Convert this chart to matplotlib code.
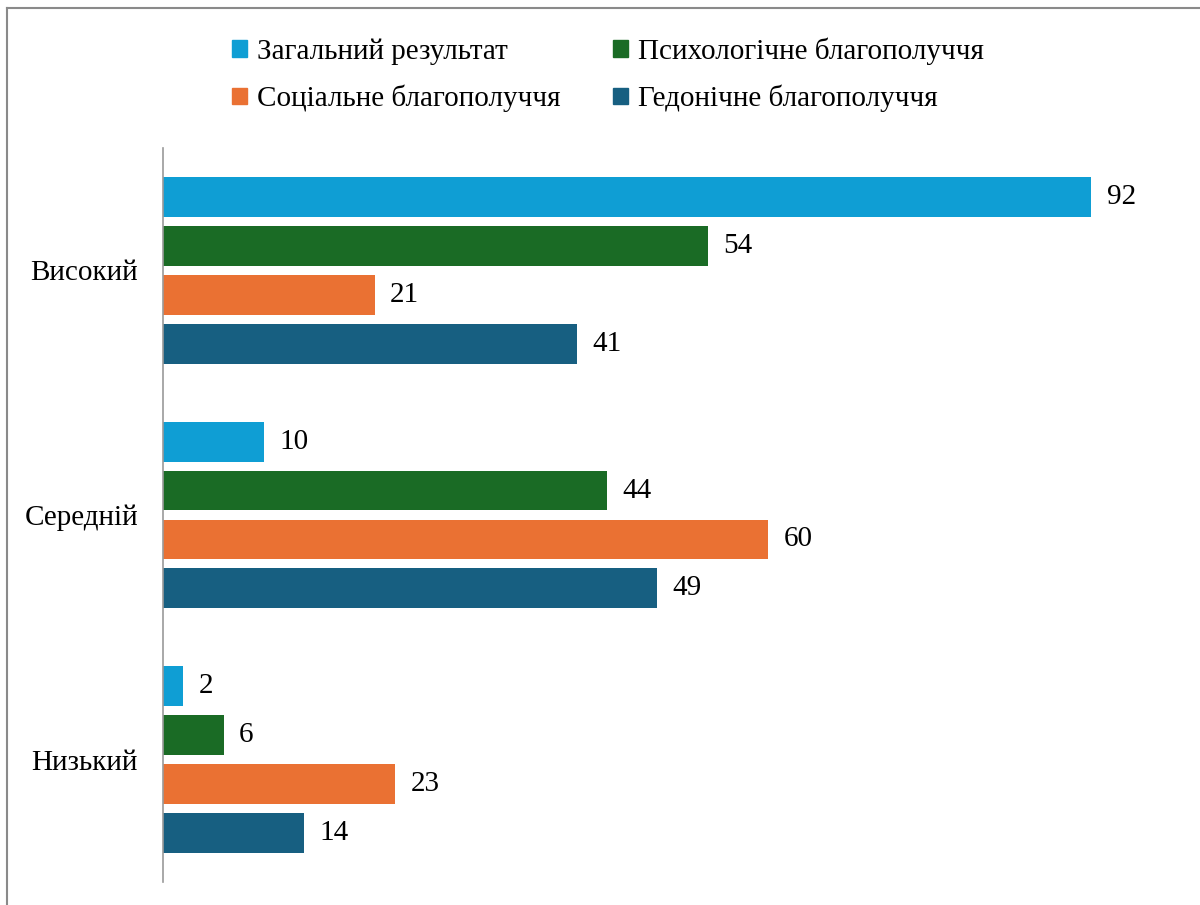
import matplotlib
matplotlib.use("Agg")
import matplotlib.pyplot as plt
from matplotlib.patches import Patch
from matplotlib.lines import Line2D
import numpy as np

categories = ["Високий", "Середній", "Низький"]
series_names = ["Загальний результат", "Психологічне благополуччя",
                "Соціальне благополуччя", "Гедонічне благополуччя"]
zagalnyi = [92, 10, 2]
psykholohichne = [54, 44, 6]
sotsialne = [21, 60, 23]
hedonichne = [41, 49, 14]
colors = ["#0F9ED4", "#1A6B25", "#EA7133", "#175F81"]

plt.rcParams['font.family'] = ['Liberation Serif', 'DejaVu Serif']

fig = plt.figure(figsize=(12, 9.05), dpi=100)
ax = fig.add_axes([163/1200, 1-882/905, (1172-163)/1200, (882-148)/905])

series = [zagalnyi, psykholohichne, sotsialne, hedonichne]
offsets = [-0.3, -0.1, 0.1, 0.3]
y = np.arange(len(categories))
for vals, off, c, name in zip(series, offsets, colors, series_names):
    bars = ax.barh(y + off, vals, height=0.163, color=c, label=name)
    ax.bar_label(bars, labels=[str(v) for v in vals], padding=11, fontsize=21)

ax.set_xlim(0, 100)
ax.set_ylim(2.5, -0.5)
ax.set_yticks(y)
ax.set_yticklabels(categories, fontsize=21)
ax.tick_params(axis='y', length=0, pad=18)
ax.set_xticks([])
for s in ['top', 'right', 'bottom']:
    ax.spines[s].set_visible(False)
ax.spines['left'].set_color('#9a9a9a')
ax.spines['left'].set_linewidth(1.2)

# legend laid out row by row (matplotlib fills columns first)
order = [0, 2, 1, 3]
handles = [Patch(color=colors[i]) for i in order]
labels = [series_names[i] for i in order]
leg = fig.legend(handles, labels, ncol=2, loc='upper left',
                 bbox_to_anchor=(206/1200, 1-11/905), frameon=False,
                 fontsize=21, handlelength=0.5, handleheight=0.5,
                 handletextpad=0.35, columnspacing=1.8, labelspacing=0.69)

# outer frame (top and left edges)
fig.add_artist(Line2D([7/1200, 1], [1-8/905, 1-8/905], transform=fig.transFigure,
                      color='#8a8a8a', linewidth=1.5))
fig.add_artist(Line2D([7/1200, 7/1200], [0, 1-8/905], transform=fig.transFigure,
                      color='#8a8a8a', linewidth=1.5))

fig.savefig("out.png", dpi=100)
